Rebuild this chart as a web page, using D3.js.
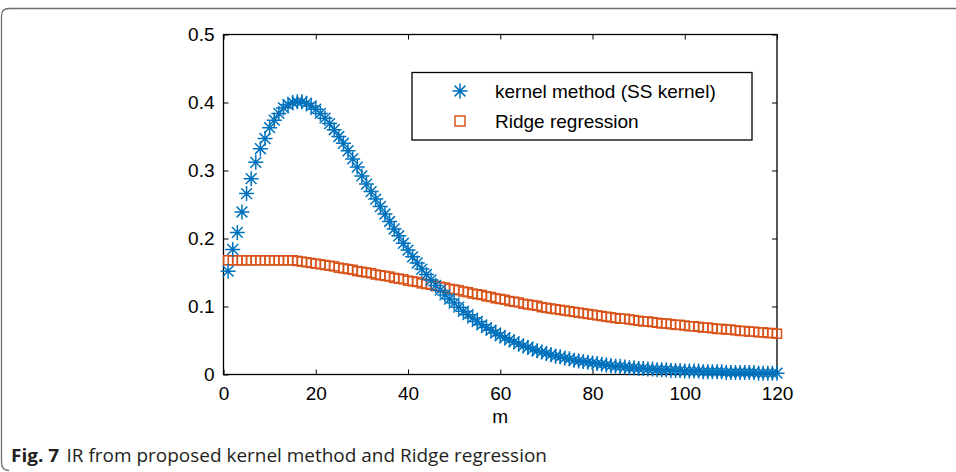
<!DOCTYPE html>
<html>
<head>
<meta charset="utf-8">
<script src="https://cdn.jsdelivr.net/npm/d3@7"></script>
<style>
  body { margin: 0; background: #fff; }
  svg { display: block; }
</style>
</head>
<body>
<div id="chart"></div>
<script>
// lag index m = 1..120
let lags = d3.range(1, 121);

// kernel method (SS kernel)
let kernelIR = [
    0.152, 0.184, 0.209, 0.239, 0.266, 0.288, 0.312, 0.332, 0.347, 0.363,
    0.374, 0.384, 0.392, 0.397, 0.400, 0.401, 0.401, 0.399, 0.395, 0.390,
    0.384, 0.377, 0.369, 0.360, 0.350, 0.340, 0.329, 0.317, 0.305, 0.292,
    0.280, 0.269, 0.258, 0.247, 0.236, 0.225, 0.214, 0.204, 0.193, 0.183,
    0.173, 0.164, 0.155, 0.147, 0.139, 0.131, 0.124, 0.117, 0.111, 0.105,
    0.099, 0.093, 0.088, 0.083, 0.078, 0.073, 0.069, 0.065, 0.061, 0.057,
    0.054, 0.051, 0.048, 0.045, 0.042, 0.040, 0.037, 0.035, 0.033, 0.031,
    0.029, 0.027, 0.026, 0.024, 0.023, 0.021, 0.020, 0.019, 0.018, 0.017,
    0.016, 0.015, 0.014, 0.013, 0.012, 0.012, 0.011, 0.010, 0.010, 0.009,
    0.009, 0.008, 0.008, 0.007, 0.007, 0.007, 0.006, 0.006, 0.006, 0.005,
    0.005, 0.005, 0.005, 0.004, 0.004, 0.004, 0.004, 0.004, 0.003, 0.003,
    0.003, 0.003, 0.003, 0.003, 0.003, 0.002, 0.002, 0.002, 0.002, 0.002
];

// Ridge regression
let ridgeIR = [
    0.168, 0.168, 0.168, 0.168, 0.168, 0.168, 0.168, 0.168, 0.168, 0.168,
    0.168, 0.168, 0.168, 0.168, 0.168, 0.167, 0.166, 0.165, 0.164, 0.163,
    0.162, 0.161, 0.160, 0.159, 0.157, 0.156, 0.155, 0.154, 0.152, 0.151,
    0.150, 0.149, 0.147, 0.146, 0.145, 0.144, 0.142, 0.141, 0.140, 0.138,
    0.137, 0.136, 0.134, 0.133, 0.132, 0.130, 0.129, 0.128, 0.126, 0.125,
    0.124, 0.122, 0.121, 0.119, 0.118, 0.117, 0.115, 0.114, 0.112, 0.111,
    0.110, 0.108, 0.107, 0.106, 0.104, 0.103, 0.102, 0.101, 0.099, 0.098,
    0.097, 0.096, 0.095, 0.094, 0.093, 0.092, 0.091, 0.090, 0.089, 0.088,
    0.087, 0.086, 0.085, 0.084, 0.083, 0.082, 0.082, 0.081, 0.080, 0.079,
    0.078, 0.078, 0.077, 0.076, 0.075, 0.075, 0.074, 0.073, 0.073, 0.072,
    0.071, 0.071, 0.070, 0.069, 0.069, 0.068, 0.067, 0.067, 0.066, 0.066,
    0.065, 0.064, 0.064, 0.063, 0.063, 0.062, 0.062, 0.061, 0.061, 0.060
];

let xTicks = [0, 20, 40, 60, 80, 100, 120];
let yTicks = [0, 0.1, 0.2, 0.3, 0.4, 0.5];
let legendLabels = ["kernel method (SS kernel)", "Ridge regression"];

let blue = "#0072bd", orange = "#d95319";
let font = "'Liberation Sans', Arial, sans-serif";

let W = 956, H = 472;
let margin = { top: 34.5, right: 179, bottom: 97.5, left: 223.5 },
    width = W - margin.left - margin.right,
    height = H - margin.top - margin.bottom;

let svg = d3.select("#chart")
    .append("svg")
    .attr("width", W)
    .attr("height", H);

// figure frame (open on the right)
svg.append("path")
    .attr("d", "M956,8.5 L9,8.5 Q1.5,8.5 1.5,16 L1.5,462 Q1.5,470.5 9,470.5")
    .attr("fill", "none")
    .attr("stroke", "#6e6e6e")
    .attr("stroke-width", 1.3);

let g = svg.append("g")
    .attr("transform", "translate(" + margin.left + "," + margin.top + ")");

let x = d3.scaleLinear().domain([0, 120]).range([0, width]);
let y = d3.scaleLinear().domain([0, 0.5]).range([height, 0]);

function styleAxis(a) {
    a.select(".domain").remove();
    a.selectAll("line").attr("stroke", "#000").attr("stroke-width", 1);
    a.selectAll("text")
        .attr("fill", "#000")
        .style("font-family", font)
        .style("font-size", "19px");
}

g.append("g")
    .attr("transform", "translate(0," + height + ")")
    .call(d3.axisBottom(x).tickValues(xTicks).tickSizeInner(-5).tickSizeOuter(0).tickPadding(12))
    .call(styleAxis);
g.append("g")
    .call(d3.axisTop(x).tickValues(xTicks).tickSizeInner(-5).tickSizeOuter(0).tickFormat(""))
    .call(styleAxis);
g.append("g")
    .call(d3.axisLeft(y).tickValues(yTicks).tickSizeInner(-5).tickSizeOuter(0).tickPadding(9)
        .tickFormat(d => d === 0 ? "0" : d3.format(".1f")(d)))
    .call(styleAxis);
g.append("g")
    .attr("transform", "translate(" + width + ",0)")
    .call(d3.axisRight(y).tickValues(yTicks).tickSizeInner(-5).tickSizeOuter(0).tickFormat(""))
    .call(styleAxis);

g.append("rect")
    .attr("width", width)
    .attr("height", height)
    .attr("fill", "none")
    .attr("stroke", "#000")
    .attr("stroke-width", 1.3);

g.append("text")
    .attr("x", width / 2)
    .attr("y", height + 48)
    .attr("text-anchor", "middle")
    .style("font-family", font)
    .style("font-size", "19px")
    .text("m");

// marker helpers
let starR = 7.5;
function star(sel, cx, cy, r) {
    let d = "M" + (cx - r) + "," + cy + "H" + (cx + r) +
        "M" + cx + "," + (cy - r) + "V" + (cy + r);
    let q = r * 0.72;
    d += "M" + (cx - q) + "," + (cy - q) + "L" + (cx + q) + "," + (cy + q) +
        "M" + (cx - q) + "," + (cy + q) + "L" + (cx + q) + "," + (cy - q);
    sel.append("path").attr("d", d)
        .attr("fill", "none").attr("stroke", blue).attr("stroke-width", 1.5);
}
let sq = 9;

let ridgeG = g.append("g");
ridgeG.selectAll("rect")
    .data(lags)
    .enter()
    .append("rect")
    .attr("x", (d, i) => x(d) - sq / 2)
    .attr("y", (d, i) => y(ridgeIR[i]) - sq / 2)
    .attr("width", sq)
    .attr("height", sq)
    .attr("fill", "none")
    .attr("stroke", orange)
    .attr("stroke-width", 1.5);

let kernelG = g.append("g");
lags.forEach(function (m, i) {
    star(kernelG, x(m), y(kernelIR[i]), starR);
});

// legend
let lg = svg.append("g");
lg.append("rect")
    .attr("x", 412).attr("y", 72.5)
    .attr("width", 340).attr("height", 67.5)
    .attr("fill", "#fff")
    .attr("stroke", "#000")
    .attr("stroke-width", 1.3);
star(lg, 460, 91, starR);
lg.append("rect")
    .attr("x", 460 - 5).attr("y", 121 - 5)
    .attr("width", 10).attr("height", 10)
    .attr("fill", "none").attr("stroke", orange).attr("stroke-width", 1.5);
legendLabels.forEach(function (t, i) {
    lg.append("text")
        .attr("x", 495)
        .attr("y", 91 + i * 30.5)
        .attr("dy", "0.35em")
        .style("font-family", font)
        .style("font-size", "19px")
        .text(t);
});

// caption
let cap = svg.append("text")
    .attr("x", 11)
    .attr("y", 462)
    .attr("textLength", 536)
    .attr("lengthAdjust", "spacingAndGlyphs")
    .style("font-family", "'Open Sans', sans-serif")
    .style("font-size", "18px")
    .attr("fill", "#231f20");
cap.append("tspan").style("font-weight", "bold").text("Fig. 7");
cap.append("tspan").attr("dx", 7).text("IR from proposed kernel method and Ridge regression");
</script>
</body>
</html>
